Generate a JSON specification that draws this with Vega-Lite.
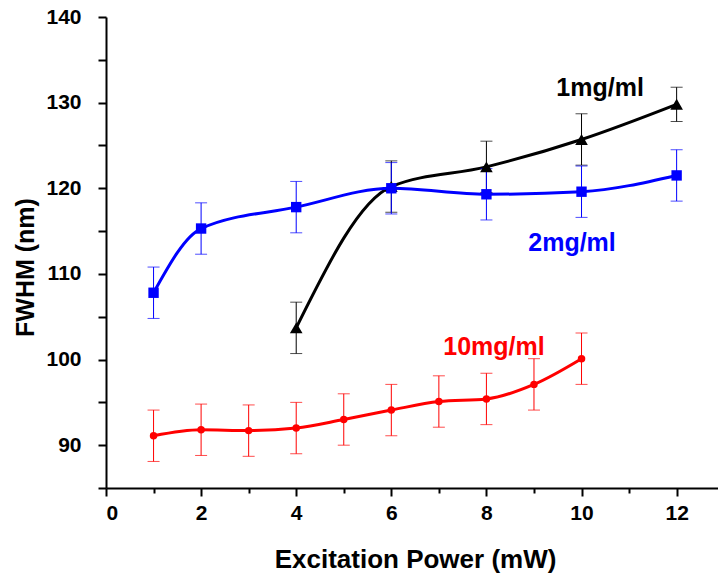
{
  "$schema": "https://vega.github.io/schema/vega-lite/v6.json",
  "autosize": {"type": "none"},
  "width": 612,
  "height": 471,
  "padding": {"left": 106, "top": 17, "right": 0, "bottom": 87},
  "background": "white",
  "config": {
    "view": {"stroke": null},
    "font": "Liberation Sans",
    "axis": {
      "domainColor": "black",
      "domainWidth": 2,
      "tickColor": "black",
      "tickWidth": 2,
      "tickSize": 8,
      "labelFont": "Liberation Sans",
      "labelFontWeight": "bold",
      "labelFontSize": 21,
      "labelColor": "black",
      "titleFont": "Liberation Sans",
      "titleFontWeight": "bold",
      "titleColor": "black",
      "grid": false
    }
  },
  "datasets": {
    "fwhm": [
      {"series": "1mg/ml", "power": 4, "fwhm": 103.7, "err": 3},
      {"series": "1mg/ml", "power": 6, "fwhm": 120.2, "err": 3},
      {"series": "1mg/ml", "power": 8, "fwhm": 122.5, "err": 3},
      {"series": "1mg/ml", "power": 10, "fwhm": 125.7, "err": 3},
      {"series": "1mg/ml", "power": 12, "fwhm": 129.8, "err": 2},
      {"series": "2mg/ml", "power": 1, "fwhm": 107.8, "err": 3},
      {"series": "2mg/ml", "power": 2, "fwhm": 115.3, "err": 3},
      {"series": "2mg/ml", "power": 4, "fwhm": 117.8, "err": 3},
      {"series": "2mg/ml", "power": 6, "fwhm": 120.0, "err": 3},
      {"series": "2mg/ml", "power": 8, "fwhm": 119.3, "err": 3},
      {"series": "2mg/ml", "power": 10, "fwhm": 119.6, "err": 3},
      {"series": "2mg/ml", "power": 12, "fwhm": 121.5, "err": 3},
      {"series": "10mg/ml", "power": 1, "fwhm": 91.1, "err": 3},
      {"series": "10mg/ml", "power": 2, "fwhm": 91.8, "err": 3},
      {"series": "10mg/ml", "power": 3, "fwhm": 91.7, "err": 3},
      {"series": "10mg/ml", "power": 4, "fwhm": 92.0, "err": 3},
      {"series": "10mg/ml", "power": 5, "fwhm": 93.0, "err": 3},
      {"series": "10mg/ml", "power": 6, "fwhm": 94.1, "err": 3},
      {"series": "10mg/ml", "power": 7, "fwhm": 95.1, "err": 3},
      {"series": "10mg/ml", "power": 8, "fwhm": 95.4, "err": 3},
      {"series": "10mg/ml", "power": 9, "fwhm": 97.1, "err": 3},
      {"series": "10mg/ml", "power": 10, "fwhm": 100.1, "err": 3}
    ],
    "labels": [
      {"series": "1mg/ml", "power": 10.39, "fwhm": 131.7},
      {"series": "2mg/ml", "power": 9.8, "fwhm": 113.6},
      {"series": "10mg/ml", "power": 8.16, "fwhm": 101.45}
    ]
  },
  "encoding": {
    "x": {
      "field": "power",
      "type": "quantitative",
      "scale": {"domain": [0, 12.87], "nice": false, "zero": false},
      "axis": {
        "title": "Excitation Power (mW)",
        "titleFontSize": 26,
        "values": [0, 1, 2, 3, 4, 5, 6, 7, 8, 9, 10, 11, 12],
        "labelExpr": "datum.value % 2 == 0 ? datum.label : ''",
        "tickSize": {"condition": {"test": "datum.value % 2 == 0", "value": 8}, "value": 5},
        "labelPadding": 6,
        "titleBaseline": "alphabetic",
        "titleAnchor": "middle",
        "titleX": 309,
        "titleY": 79
      }
    },
    "y": {
      "field": "fwhm",
      "type": "quantitative",
      "scale": {"domain": [85, 140], "nice": false, "zero": false},
      "axis": {
        "title": "FWHM (nm)",
        "titleFontSize": 25,
        "values": [85, 90, 95, 100, 105, 110, 115, 120, 125, 130, 135, 140],
        "labelExpr": "datum.value % 10 == 0 ? datum.label : ''",
        "labelPadding": 17,
        "titleBaseline": "alphabetic",
        "titleAnchor": "middle",
        "titleAngle": 270,
        "titleX": -73,
        "titleY": 250
      }
    },
    "color": {
      "field": "series",
      "type": "nominal",
      "scale": {"domain": ["1mg/ml", "2mg/ml", "10mg/ml"], "range": ["#000000", "#0000ff", "#ff0000"]},
      "legend": null
    }
  },
  "layer": [
    {
      "data": {"name": "fwhm"},
      "mark": {"type": "line", "interpolate": "monotone"},
      "encoding": {
        "strokeWidth": {
          "field": "series",
          "type": "nominal",
          "scale": {"domain": ["1mg/ml", "2mg/ml", "10mg/ml"], "range": [3, 3, 2]},
          "legend": null
        }
      }
    },
    {
      "data": {"name": "fwhm"},
      "mark": {"type": "errorbar", "ticks": {"size": 12, "thickness": 1}, "thickness": 1},
      "encoding": {
        "yError": {"field": "err"}
      }
    },
    {
      "data": {"name": "fwhm"},
      "mark": {"type": "point", "filled": true, "opacity": 1},
      "encoding": {
        "shape": {
          "field": "series",
          "type": "nominal",
          "scale": {"domain": ["1mg/ml", "2mg/ml", "10mg/ml"], "range": ["triangle-up", "square", "circle"]},
          "legend": null
        },
        "size": {
          "field": "series",
          "type": "nominal",
          "scale": {"domain": ["1mg/ml", "2mg/ml", "10mg/ml"], "range": [160, 56, 66]},
          "legend": null
        }
      }
    },
    {
      "data": {"name": "labels"},
      "mark": {"type": "text", "font": "Liberation Sans", "fontWeight": "bold", "fontSize": 25, "align": "center", "baseline": "middle"},
      "encoding": {
        "text": {"field": "series"}
      }
    },
    {
      "data": {"values": [{}]},
      "mark": {"type": "rule", "color": "black", "strokeWidth": 2},
      "encoding": {
        "y": {"datum": 140},
        "x": null,
        "color": null
      }
    }
  ]
}
